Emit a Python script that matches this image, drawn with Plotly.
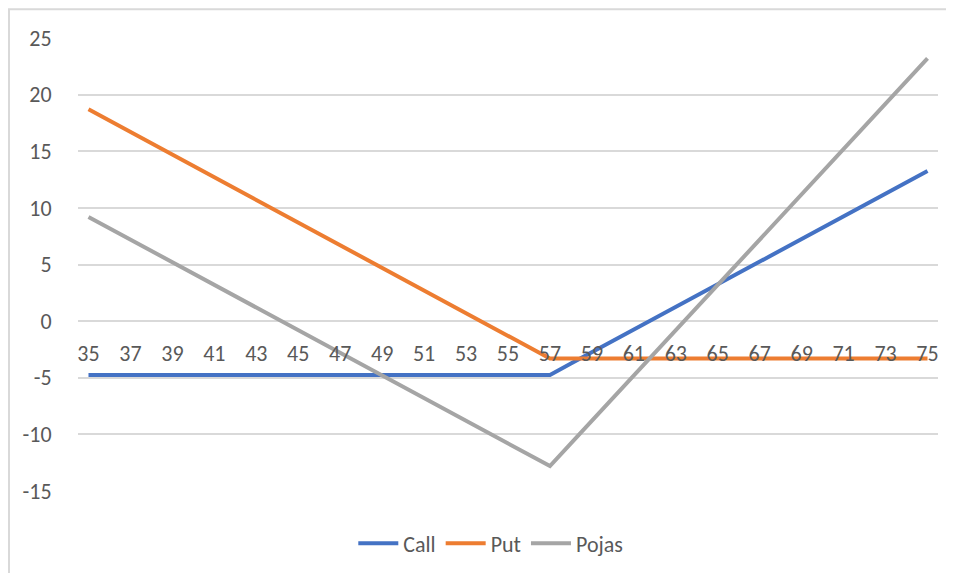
import plotly.graph_objects as go

# Cijena dionice (os x)
prices = list(range(35, 76))

call = [-4.75, -4.75, -4.75, -4.75, -4.75, -4.75, -4.75, -4.75, -4.75, -4.75,
        -4.75, -4.75, -4.75, -4.75, -4.75, -4.75, -4.75, -4.75, -4.75, -4.75,
        -4.75, -4.75, -4.75, -3.75, -2.75, -1.75, -0.75, 0.25, 1.25, 2.25,
        3.25, 4.25, 5.25, 6.25, 7.25, 8.25, 9.25, 10.25, 11.25, 12.25, 13.25]

put = [18.7, 17.7, 16.7, 15.7, 14.7, 13.7, 12.7, 11.7, 10.7, 9.7,
       8.7, 7.7, 6.7, 5.7, 4.7, 3.7, 2.7, 1.7, 0.7, -0.3,
       -1.3, -2.3, -3.3, -3.3, -3.3, -3.3, -3.3, -3.3, -3.3, -3.3,
       -3.3, -3.3, -3.3, -3.3, -3.3, -3.3, -3.3, -3.3, -3.3, -3.3, -3.3]

pojas = [9.2, 8.2, 7.2, 6.2, 5.2, 4.2, 3.2, 2.2, 1.2, 0.2,
         -0.8, -1.8, -2.8, -3.8, -4.8, -5.8, -6.8, -7.8, -8.8, -9.8,
         -10.8, -11.8, -12.8, -10.8, -8.8, -6.8, -4.8, -2.8, -0.8, 1.2,
         3.2, 5.2, 7.2, 9.2, 11.2, 13.2, 15.2, 17.2, 19.2, 21.2, 23.2]

x_ticks = list(range(35, 76, 2))
y_ticks = list(range(-15, 26, 5))
y_labels = [str(v) for v in y_ticks]  # obicna crtica umjesto unicode minusa

FONT = "Calibri, Carlito, Lato, 'Open Sans', sans-serif"
GREY_TXT = "#595959"
GRID = "#d9d9d9"
FS = 22

fig = go.Figure()
for name, vals, col in [("Call", call, "#4472C4"),
                        ("Put", put, "#ED7D31"),
                        ("Pojas", pojas, "#A5A5A5")]:
    fig.add_trace(go.Scatter(x=prices, y=vals, name=name, mode="lines",
                             line=dict(color=col, width=4)))

# os x sijece os y u nuli
fig.update_xaxes(
    range=[34.5, 75.5],
    tickvals=x_ticks,
    showgrid=False,
    zeroline=False,
    showline=False,
    anchor="free",
    position=15 / 40,
    ticks="outside",
    ticklen=12,
    tickcolor="rgba(0,0,0,0)",
    tickfont=dict(size=FS, color=GREY_TXT, family=FONT),
)
fig.update_yaxes(
    range=[-15, 25],
    tickvals=y_ticks,
    ticktext=y_labels,
    showgrid=True,
    gridcolor=GRID,
    gridwidth=1.5,
    zeroline=False,
    showline=False,
    ticks="outside",
    ticklen=21,
    tickcolor="rgba(0,0,0,0)",
    tickfont=dict(size=FS, color=GREY_TXT, family=FONT),
)

# okvir grafikona: vidljiv samo lijevi i gornji rub
bx0 = (9 - 78) / 860
by1 = 1 + (38 - 9) / 456
fig.add_shape(type="path", xref="paper", yref="paper",
              path=f"M {bx0},-0.5 L {bx0},{by1} L 1.2,{by1}",
              line=dict(color=GRID, width=2), layer="below")

# stranica ima 8px margine, pa je slika pomaknuta
fig.update_layout(
    width=938,
    height=565,
    margin=dict(l=70, r=8, t=30, b=79),
    plot_bgcolor="white",
    paper_bgcolor="white",
    font=dict(family=FONT, color=GREY_TXT),
    legend=dict(orientation="h", x=0.48, xanchor="center", y=-0.116,
                yanchor="middle", font=dict(size=FS, color=GREY_TXT),
                itemwidth=40),
)

fig.write_html("out.html")
